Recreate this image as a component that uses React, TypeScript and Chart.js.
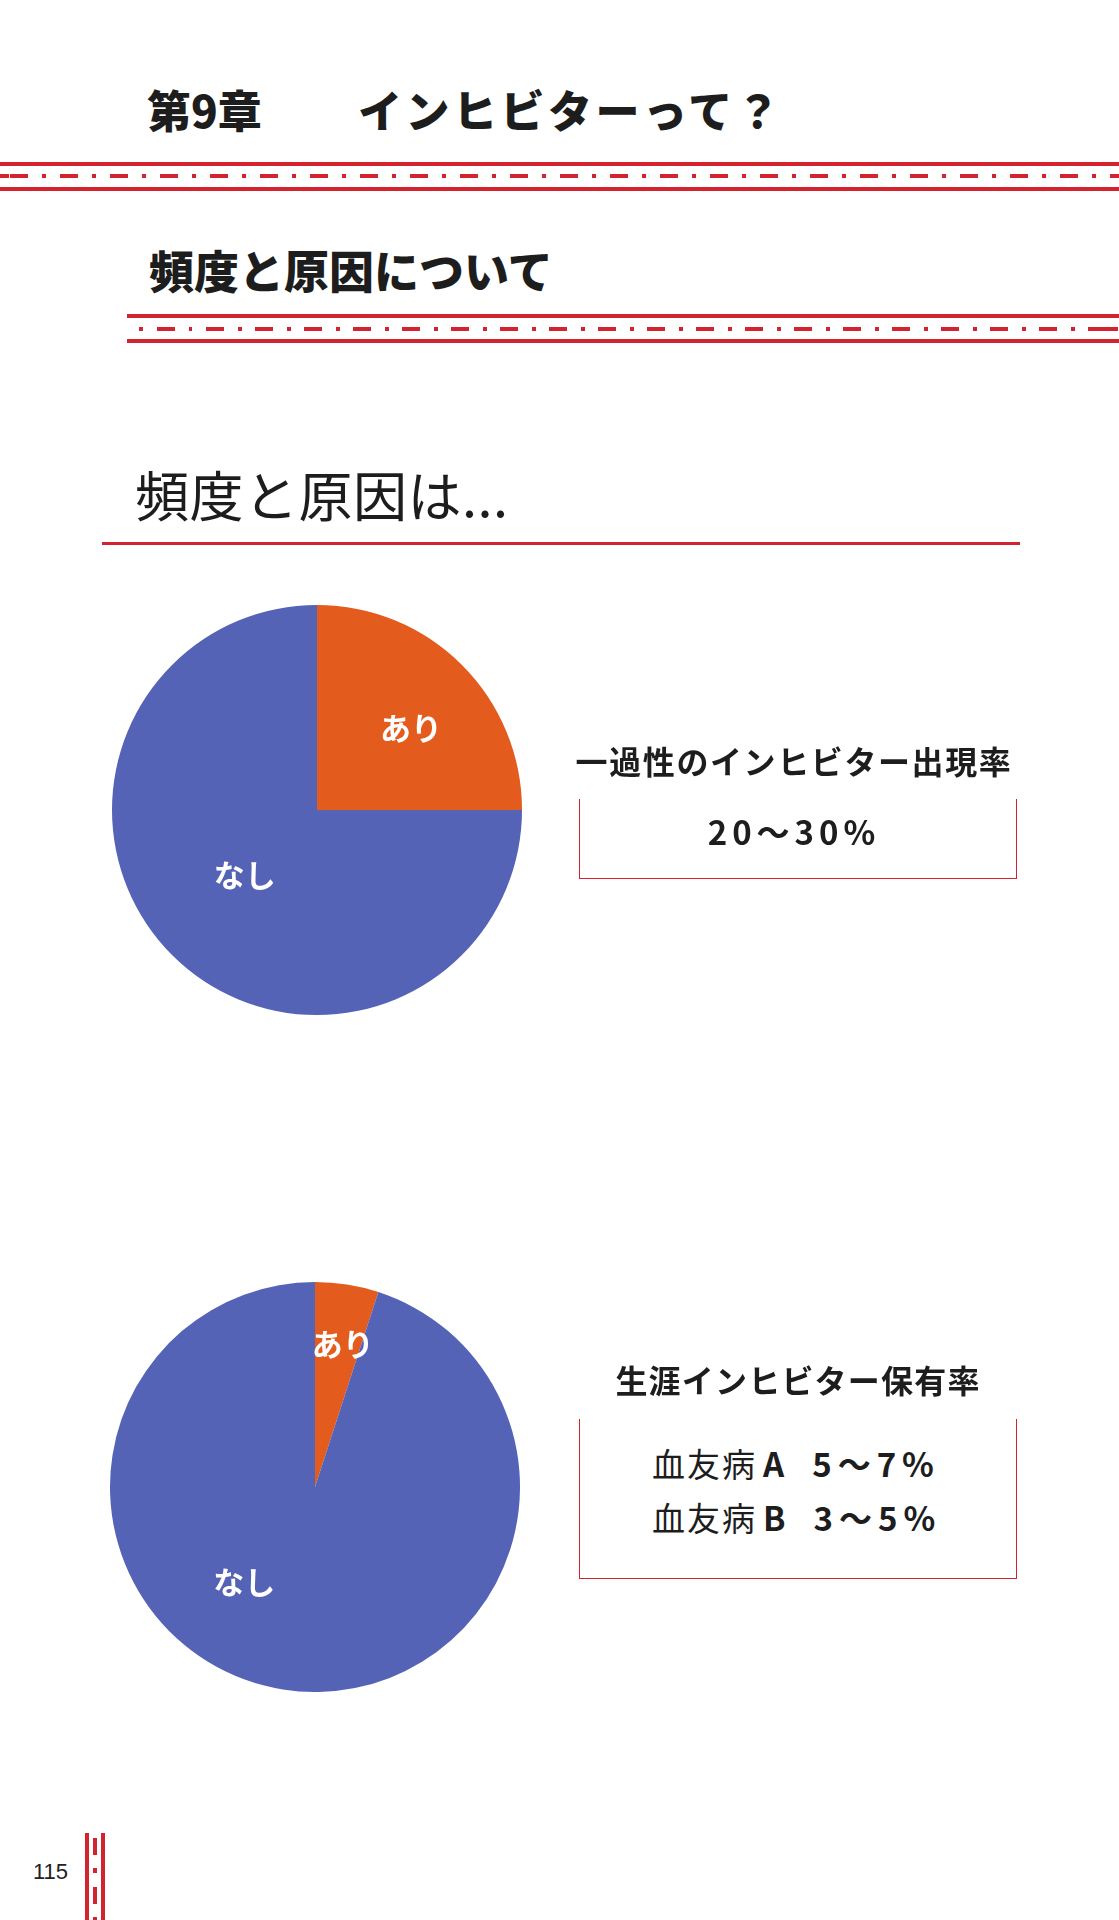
import React, { useEffect, useRef } from "react";
import { Chart, registerables } from "chart.js";

Chart.register(...registerables);

const pieLabels = ["あり", "なし"];
const transientValues = [25, 75];
const lifetimeValues = [5, 95];
const sliceColors = ["#E35C1D", "#5463B5"];

const chapterLabel = "第9章";
const chapterTitle = "インヒビターって？";
const sectionTitle = "頻度と原因について";
const headline = "頻度と原因は...";
const transientTitle = "一過性のインヒビター出現率";
const transientRate = "20～30%";
const lifetimeTitle = "生涯インヒビター保有率";
const lifetimeRows = [
  ["血友病", "A", "5～7%"],
  ["血友病", "B", "3～5%"],
];
const pageNumber = "115";

const RED = "#D2232E";
const FONT = '"Noto Sans CJK JP", "Noto Sans", sans-serif';

const sliceLabelPlugin = {
  id: "sliceLabels",
  afterDatasetsDraw(chart: any, _args: any, opts: any) {
    const ctx = chart.ctx;
    const meta = chart.getDatasetMeta(0);
    ctx.save();
    ctx.fillStyle = "#ffffff";
    ctx.font = `bold 31px ${FONT}`;
    ctx.textAlign = "center";
    ctx.textBaseline = "middle";
    meta.data.forEach((arc: any, i: number) => {
      const p = opts.positions[i];
      const a = ((p.angle - 90) * Math.PI) / 180;
      const r = arc.outerRadius * p.r;
      ctx.fillText(chart.data.labels[i], arc.x + r * Math.cos(a), arc.y + r * Math.sin(a));
    });
    ctx.restore();
  },
};

function Pie({ values, left, top, positions }: { values: number[]; left: number; top: number; positions: { angle: number; r: number }[] }) {
  const ref = useRef<HTMLCanvasElement | null>(null);
  useEffect(() => {
    if (!ref.current) return;
    const chart = new Chart(ref.current, {
      type: "pie",
      data: {
        labels: pieLabels,
        datasets: [{ data: values, backgroundColor: sliceColors, borderWidth: 0 }],
      },
      options: {
        responsive: false,
        maintainAspectRatio: false,
        animation: false,
        layout: { padding: 0 },
        plugins: {
          legend: { display: false },
          tooltip: { enabled: false },
          sliceLabels: { positions },
        } as any,
      },
      plugins: [sliceLabelPlugin],
    });
    return () => chart.destroy();
  }, []);
  return (
    <canvas
      ref={ref}
      width={410}
      height={410}
      style={{ position: "absolute", left, top, width: 410, height: 410 }}
    />
  );
}

function Text({ children, left, cy, size, weight = 400, center, style }: any) {
  const h = size * 1.4;
  const s: React.CSSProperties = {
    position: "absolute",
    top: cy - h / 2,
    height: h,
    lineHeight: `${h}px`,
    fontSize: size,
    fontWeight: weight,
    fontFamily: FONT,
    color: "#1d1d1d",
    whiteSpace: "nowrap",
    ...(center !== undefined
      ? { left: center - 300, width: 600, textAlign: "center" }
      : { left }),
    ...style,
  };
  return <div style={s}>{children}</div>;
}

function Bar({ left, top, width, height }: any) {
  return <div style={{ position: "absolute", left, top, width, height, background: RED }} />;
}

function DashH({ left, top, width, period, offset }: any) {
  const long = 18;
  const gap = (period - long - 4) / 2;
  return (
    <div
      style={{
        position: "absolute",
        left,
        top,
        width,
        height: 4,
        backgroundImage: `repeating-linear-gradient(to right, ${RED} 0px, ${RED} ${long}px, transparent ${long}px, transparent ${long + gap}px, ${RED} ${long + gap}px, ${RED} ${long + gap + 4}px, transparent ${long + gap + 4}px, transparent ${period}px)`,
        backgroundPosition: `${offset}px 0`,
      }}
    />
  );
}

function Box({ top, bottom }: any) {
  return (
    <div
      style={{
        position: "absolute",
        left: 579,
        top,
        width: 438,
        height: bottom - top,
        boxSizing: "border-box",
        borderLeft: `1.5px solid ${RED}`,
        borderRight: `1.5px solid ${RED}`,
        borderBottom: `1.5px solid ${RED}`,
      }}
    />
  );
}

export default function App() {
  return (
    <div style={{ position: "absolute", left: 0, top: 0, width: 1119, height: 1920, background: "#fff", overflow: "hidden" }}>
      <Text left={147} cy={110} size={44} weight={900}>{chapterLabel}</Text>
      <Text left={358} cy={110} size={44} weight={900} style={{ letterSpacing: 3.5 }}>{chapterTitle}</Text>

      <Bar left={0} top={162} width={1119} height={4} />
      <DashH left={0} top={174} width={1119} period={50} offset={10} />
      <Bar left={0} top={187} width={1119} height={4} />

      <Text left={149} cy={269} size={45} weight={900}>{sectionTitle}</Text>

      <Bar left={127} top={314} width={992} height={4} />
      <DashH left={127} top={327} width={992} period={49} offset={-19} />
      <Bar left={127} top={339} width={992} height={4} />

      <Text left={135} cy={494} size={54} weight={400} style={{ letterSpacing: 0.5 }}>{headline}</Text>
      <Bar left={102} top={542} width={918} height={3} />

      <Pie values={transientValues} left={112} top={605} positions={[{ angle: 49, r: 0.607 }, { angle: 228, r: 0.475 }]} />

      <Text center={794} cy={760} size={32} weight={700} style={{ letterSpacing: 1.6 }}>{transientTitle}</Text>
      <Box top={799} bottom={879} />
      <Text center={794} cy={831} size={33} weight={700} style={{ letterSpacing: 5 }}>{transientRate}</Text>

      <Pie values={lifetimeValues} left={110} top={1282} positions={[{ angle: 11, r: 0.712 }, { angle: 216.6, r: 0.578 }]} />

      <Text center={798} cy={1379} size={32} weight={700} style={{ letterSpacing: 1.2 }}>{lifetimeTitle}</Text>
      <Box top={1419} bottom={1579} />
      {lifetimeRows.map((row, i) => (
        <Text key={i} left={652} cy={1463 + i * 54} size={33} weight={400} style={{ letterSpacing: 2 }}>
          <span>{row[0]}</span>
          <span style={{ fontWeight: 700, marginLeft: 6 }}>{row[1]}</span>
          <span style={{ fontWeight: 700, marginLeft: 26, letterSpacing: 6 }}>{row[2]}</span>
        </Text>
      ))}

      <div style={{ position: "absolute", left: 33, top: 1860, fontSize: 22, lineHeight: "24px", fontFamily: '"Liberation Sans", sans-serif', color: "#222" }}>{pageNumber}</div>
      <Bar left={85} top={1833} width={4} height={87} />
      <Bar left={101} top={1833} width={4} height={87} />
      <div
        style={{
          position: "absolute",
          left: 93,
          top: 1838,
          width: 4,
          height: 82,
          backgroundImage: `repeating-linear-gradient(to bottom, ${RED} 0px, ${RED} 17px, transparent 17px, transparent 30px, ${RED} 30px, ${RED} 35px, transparent 35px, transparent 49px)`,
        }}
      />
    </div>
  );
}
